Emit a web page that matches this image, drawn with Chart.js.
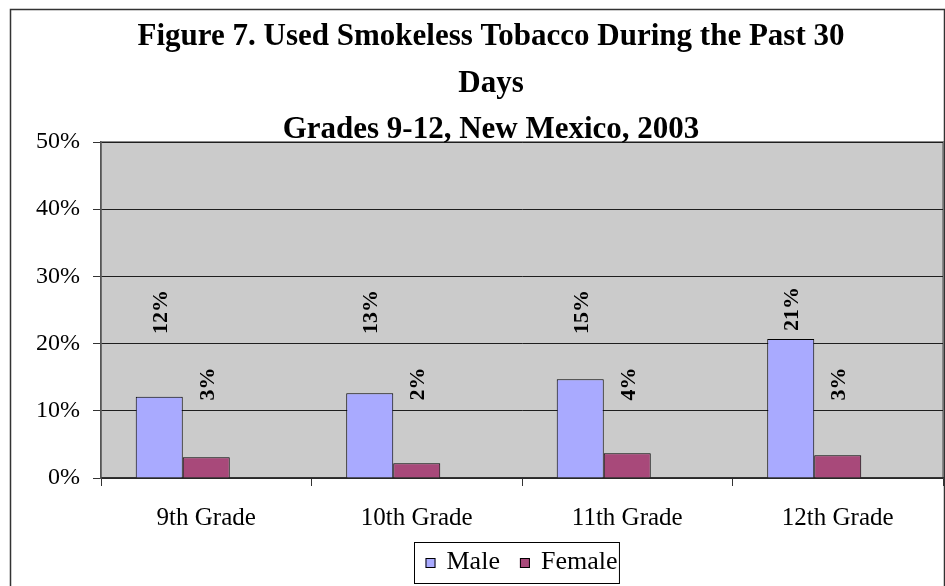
<!DOCTYPE html>
<html>
<head>
<meta charset="utf-8">
<title>Figure 7. Used Smokeless Tobacco</title>
<script src="https://cdn.jsdelivr.net/npm/chart.js@4/dist/chart.umd.min.js"></script>
<style>
  html, body { margin: 0; padding: 0; background: #fff; }
  #wrap { width: 945px; height: 586px; position: relative; }
</style>
</head>
<body>
<div id="wrap"><canvas id="myChart" width="945" height="586"></canvas></div>
<script>
// chart data
const grades = ["9th Grade", "10th Grade", "11th Grade", "12th Grade"];
const maleValues = [12.1, 12.6, 14.7, 20.7];
const femaleValues = [3.1, 2.2, 3.7, 3.4];
// excel left an empty third series, that is why the bars sit left of centre
const spacerValues = [null, null, null, null];
const yTicks = [0, 10, 20, 30, 40, 50];
const titleLines = [
  "Figure 7. Used Smokeless Tobacco During the Past 30",
  "Days",
  "Grades 9-12, New Mexico, 2003",
];

const serif = "'Liberation Serif', 'Times New Roman', serif";

// gray plot background + outer frame
const backgroundPlugin = {
  id: "background",
  beforeDraw: (chart) => {
    const { ctx, chartArea } = chart;
    ctx.save();
    ctx.fillStyle = "#fff";
    ctx.fillRect(0, 0, chart.width, chart.height);
    ctx.fillStyle = "#cbcbcb";
    ctx.fillRect(chartArea.left, chartArea.top, chartArea.right - chartArea.left, chartArea.bottom - chartArea.top);
    ctx.strokeStyle = "#8a8a8a";
    ctx.lineWidth = 2;
    ctx.strokeRect(chartArea.left, chartArea.top, chartArea.right - chartArea.left, chartArea.bottom - chartArea.top);
    // frame round the whole chart
    ctx.strokeStyle = "#333";
    ctx.lineWidth = 1.5;
    ctx.strokeRect(10.5, 9.5, 934, 590);
    ctx.restore();
  },
};

// three line title, centred a bit right like the original
const titlePlugin = {
  id: "bigTitle",
  afterDraw: (chart) => {
    const { ctx } = chart;
    ctx.save();
    ctx.fillStyle = "#000";
    ctx.font = "bold 31px " + serif;
    ctx.textAlign = "center";
    ctx.textBaseline = "alphabetic";
    titleLines.forEach((line, i) => {
      ctx.fillText(line, 491, 45 + i * 46.5);
    });
    ctx.restore();
  },
};

// rotated value labels above the bars
const valueLabelPlugin = {
  id: "valueLabels",
  afterDatasetsDraw: (chart, args, opts) => {
    const { ctx } = chart;
    const yScale = chart.scales.y;
    ctx.save();
    ctx.fillStyle = "#000";
    ctx.font = "bold 22px " + serif;
    ctx.textAlign = "center";
    ctx.textBaseline = "middle";
    chart.data.datasets.forEach((ds, di) => {
      const level = opts.levels[di];
      if (level === undefined) return;
      chart.getDatasetMeta(di).data.forEach((bar, i) => {
        const v = ds.data[i];
        if (v === null) return;
        const yc = Math.min(bar.y - 30, yScale.getPixelForValue(level));
        ctx.save();
        ctx.translate(bar.x + 2, yc);
        ctx.rotate(-Math.PI / 2);
        ctx.fillText(Math.round(v) + "%", 0, 0);
        ctx.restore();
      });
    });
    ctx.restore();
  },
};

// boxed legend under the category labels
const legendBoxPlugin = {
  id: "legendBox",
  afterDraw: (chart) => {
    const { ctx } = chart;
    const items = chart.data.datasets.filter((ds) => ds.label);
    ctx.save();
    ctx.font = "26px " + serif;
    const sq = 10;
    const gap = 11;
    const between = 20;
    const widths = items.map((ds) => sq + gap + ctx.measureText(ds.label).width);
    const inner = widths.reduce((a, b) => a + b, 0) + between * (items.length - 1);
    const boxW = inner + 13;
    const left = Math.round(516 - boxW / 2) + 0.5;
    ctx.strokeStyle = "#000";
    ctx.lineWidth = 1;
    ctx.strokeRect(left, 542.5, boxW, 41);
    let x = left + 11;
    items.forEach((ds, i) => {
      ctx.fillStyle = ds.backgroundColor;
      ctx.fillRect(x, 558, sq, sq);
      ctx.strokeRect(x + 0.5, 558.5, sq - 1, sq - 1);
      ctx.fillStyle = "#000";
      ctx.textBaseline = "alphabetic";
      ctx.fillText(ds.label, x + sq + gap, 569);
      x += widths[i] + between;
    });
    ctx.restore();
  },
};

const ctx = document.getElementById("myChart").getContext("2d");
const myChart = new Chart(ctx, {
  type: "bar",
  data: {
    labels: grades,
    datasets: [
      {
        label: "Male",
        data: maleValues,
        backgroundColor: "#a9aaff",
        borderColor: "#000",
        borderWidth: 1,
      },
      {
        label: "Female",
        data: femaleValues,
        backgroundColor: "#a8497a",
        borderColor: "#000",
        borderWidth: 1,
      },
      {
        label: "",
        data: spacerValues,
        backgroundColor: "rgba(0,0,0,0)",
      },
    ],
  },
  options: {
    responsive: false,
    animation: false,
    devicePixelRatio: 1,
    categoryPercentage: 0.67,
    barPercentage: 1,
    layout: { padding: { top: 142, left: 10, right: 2, bottom: 0 } },
    plugins: {
      legend: { display: false },
      title: { display: false },
      tooltip: { enabled: false },
      valueLabels: { levels: [24.7, 14] },
    },
    scales: {
      x: {
        grid: {
          display: true,
          drawOnChartArea: false,
          offset: true,
          tickLength: 8,
          color: "#333",
        },
        border: { color: "#333", width: 1.5 },
        ticks: {
          color: "#000",
          font: { family: serif, size: 25 },
          padding: 17,
        },
        afterFit: (scale) => {
          scale.height = 108;
        },
      },
      y: {
        min: 0,
        max: 50,
        afterBuildTicks: (scale) => {
          scale.ticks = yTicks.map((v) => ({ value: v }));
        },
        grid: {
          color: "#1e1e1e",
          tickColor: "#333",
          tickLength: 8,
        },
        border: { color: "#555", width: 1.5 },
        ticks: {
          color: "#000",
          font: { family: serif, size: 24 },
          padding: 13,
          callback: (v) => v + "%",
        },
        afterFit: (scale) => {
          scale.width = 91;
        },
      },
    },
  },
  plugins: [backgroundPlugin, valueLabelPlugin, titlePlugin, legendBoxPlugin],
});
</script>
</body>
</html>
